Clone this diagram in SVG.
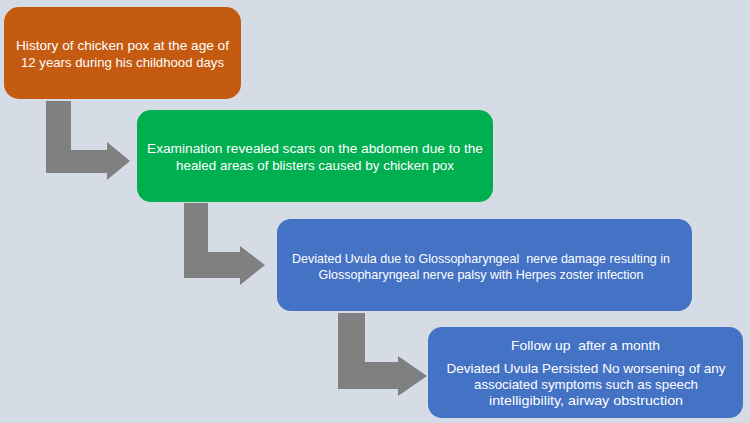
<svg xmlns="http://www.w3.org/2000/svg" width="750" height="423" viewBox="0 0 750 423">
<style>
.t{font-family:"Liberation Sans",Arial,sans-serif;font-size:13.5px;fill:#ffffff;text-anchor:middle;white-space:pre}
.arr{fill:#808080}
</style>
<rect x="0" y="0" width="750" height="423" fill="#D6DCE5"/>
<g id="connectors">
<polygon class="arr" points="46,101 71,101 71,150 107,150 107,142 130,161 107,180 107,173 46,173"/>
<polygon class="arr" points="184,203 208,203 208,252 240,252 240,246 265,265 240,285 240,278 184,278"/>
<polygon class="arr" points="338,313 365,313 365,362 398,362 398,356 427,376 398,396 398,389 338,389"/>
</g>
<g id="node1">
<rect x="4" y="7" width="237" height="92" rx="15" fill="#C55A11"/>
<text class="t" x="122.5" y="50" textLength="213" lengthAdjust="spacingAndGlyphs">History of chicken pox at the age of</text>
<text class="t" x="122.5" y="67" textLength="203" lengthAdjust="spacingAndGlyphs">12 years during his childhood days</text>
</g>
<g id="node2">
<rect x="137" y="110" width="356" height="92" rx="14" fill="#00B050"/>
<text class="t" x="315" y="153" textLength="336" lengthAdjust="spacingAndGlyphs">Examination revealed scars on the abdomen due to the</text>
<text class="t" x="315" y="170" textLength="278" lengthAdjust="spacingAndGlyphs">healed areas of blisters caused by chicken pox</text>
</g>
<g id="node3">
<rect x="277" y="219" width="415" height="92" rx="14" fill="#4472C4"/>
<text class="t" x="481" y="263" textLength="378" lengthAdjust="spacingAndGlyphs">Deviated Uvula due to Glossopharyngeal  nerve damage resulting in</text>
<text class="t" x="481" y="279" textLength="325" lengthAdjust="spacingAndGlyphs">Glossopharyngeal nerve palsy with Herpes zoster infection</text>
</g>
<g id="node4">
<rect x="428" y="327" width="315" height="91" rx="14" fill="#4472C4"/>
<text class="t" x="585.5" y="350" textLength="149" lengthAdjust="spacingAndGlyphs">Follow up  after a month</text>
<text class="t" x="586" y="373" textLength="279" lengthAdjust="spacingAndGlyphs">Deviated Uvula Persisted No worsening of any</text>
<text class="t" x="586" y="389" textLength="224" lengthAdjust="spacingAndGlyphs">associated symptoms such as speech</text>
<text class="t" x="586" y="405" textLength="194" lengthAdjust="spacingAndGlyphs">intelligibility, airway obstruction</text>
</g>
</svg>
